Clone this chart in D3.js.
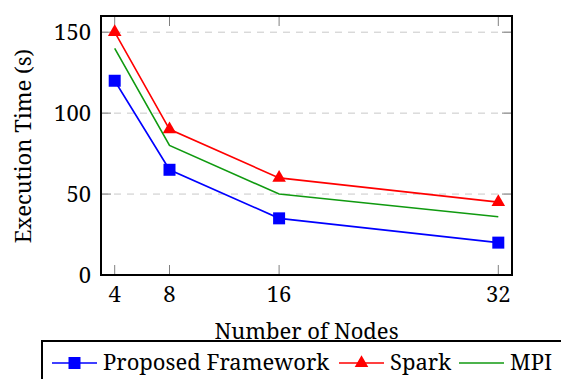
<!DOCTYPE html>
<html>
<head>
<meta charset="utf-8">
<script src="https://cdn.jsdelivr.net/npm/d3@7"></script>
<style>
  body { margin: 0; background: #fff; }
</style>
</head>
<body>
<svg id="chart"></svg>
<script>
const nodes = [4, 8, 16, 32];
const proposed = [120, 65, 35, 20];
const spark = [150, 90, 60, 45];
const mpi = [140, 80, 50, 36];
const yTicks = [0, 50, 100, 150];

const FONT = '"Noto Serif"';
const FS = 22;
const TICK = 10;
const W = 561, H = 379;
const MARGIN = { top: 16, right: 49, bottom: 104, left: 101 };
const WIDTH = W - MARGIN.left - MARGIN.right;
const HEIGHT = H - MARGIN.top - MARGIN.bottom;

const svg = d3.select('#chart').attr('width', W).attr('height', H);
const g = svg.append('g').attr('transform', `translate(${MARGIN.left},${MARGIN.top})`);

const x = d3.scaleLinear().domain([3, 33]).range([0, WIDTH]);
const y = d3.scaleLinear().domain([0, 160]).range([HEIGHT, 0]);

const label = sel => sel.style('font-family', FONT).attr('font-size', FS).attr('fill', '#000');

// dashed grid
g.selectAll('.grid').data(yTicks.filter(d => d > 0)).enter()
  .append('line')
  .attr('x1', 0).attr('x2', WIDTH)
  .attr('y1', d => y(d)).attr('y2', d => y(d))
  .attr('stroke', '#c8c8c8').attr('stroke-width', 1)
  .attr('stroke-dasharray', '7,6');

// inner ticks on all four sides
const tickStyle = sel => sel.attr('stroke', '#808080').attr('stroke-width', 1);
g.selectAll('.tl').data(yTicks).enter().append('line')
  .attr('x1', 0).attr('x2', TICK).attr('y1', d => y(d)).attr('y2', d => y(d)).call(tickStyle);
g.selectAll('.tr').data(yTicks).enter().append('line')
  .attr('x1', WIDTH - TICK).attr('x2', WIDTH).attr('y1', d => y(d)).attr('y2', d => y(d)).call(tickStyle);
g.selectAll('.tb').data(nodes).enter().append('line')
  .attr('x1', d => x(d)).attr('x2', d => x(d)).attr('y1', HEIGHT).attr('y2', HEIGHT - TICK).call(tickStyle);
g.selectAll('.tt').data(nodes).enter().append('line')
  .attr('x1', d => x(d)).attr('x2', d => x(d)).attr('y1', 0).attr('y2', TICK).call(tickStyle);

// tick labels
g.selectAll('.yl').data(yTicks).enter().append('text')
  .attr('x', -10).attr('y', d => y(d) + 8)
  .attr('text-anchor', 'end').call(label)
  .text(d => d);
g.selectAll('.xl').data(nodes).enter().append('text')
  .attr('x', d => x(d)).attr('y', HEIGHT + 27)
  .attr('text-anchor', 'middle').call(label)
  .text(d => d);

// series
const series = [
  { name: 'Proposed Framework', values: proposed, color: '#0000ff', mark: 'square' },
  { name: 'Spark', values: spark, color: '#ff0000', mark: 'triangle' },
  { name: 'MPI', values: mpi, color: '#109a10', mark: null },
];

const line = d3.line().x((d, i) => x(nodes[i])).y(d => y(d));
const symbolOf = m => m === 'square'
  ? d3.symbol().type(d3.symbolSquare).size(144)
  : d3.symbol().type(d3.symbolTriangle).size(80);

series.forEach(s => {
  g.append('path').datum(s.values)
    .attr('d', line).attr('fill', 'none')
    .attr('stroke', s.color).attr('stroke-width', 1.6);
  if (s.mark) {
    g.selectAll(null).data(s.values).enter().append('path')
      .attr('transform', (d, i) => `translate(${x(nodes[i])},${y(d)})`)
      .attr('d', symbolOf(s.mark)).attr('fill', s.color);
  }
});

// frame
g.append('rect').attr('width', WIDTH).attr('height', HEIGHT)
  .attr('fill', 'none').attr('stroke', '#000').attr('stroke-width', 2);

// axis titles
svg.append('text')
  .attr('x', MARGIN.left + WIDTH / 2).attr('y', 339)
  .attr('text-anchor', 'middle').call(label)
  .text('Number of Nodes');
svg.append('text')
  .attr('transform', 'translate(31,146) rotate(-90)')
  .attr('text-anchor', 'middle').call(label)
  .text('Execution Time (s)');

// legend
const legend = svg.append('g');
legend.append('rect').attr('x', 42).attr('y', 341).attr('width', 540).attr('height', 60)
  .attr('fill', '#fff').attr('stroke', '#000').attr('stroke-width', 2);
const legendX = [52, 339, 459];
series.forEach((s, i) => {
  const item = legend.append('g').attr('transform', `translate(${legendX[i]},363)`);
  item.append('line').attr('x1', 0).attr('x2', 45).attr('stroke', s.color).attr('stroke-width', 1.6);
  if (s.mark) {
    item.append('path').attr('transform', 'translate(22.5,0)')
      .attr('d', symbolOf(s.mark)).attr('fill', s.color);
  }
  item.append('text').attr('x', 51).attr('y', 7).call(label).text(s.name);
});
</script>
</body>
</html>
